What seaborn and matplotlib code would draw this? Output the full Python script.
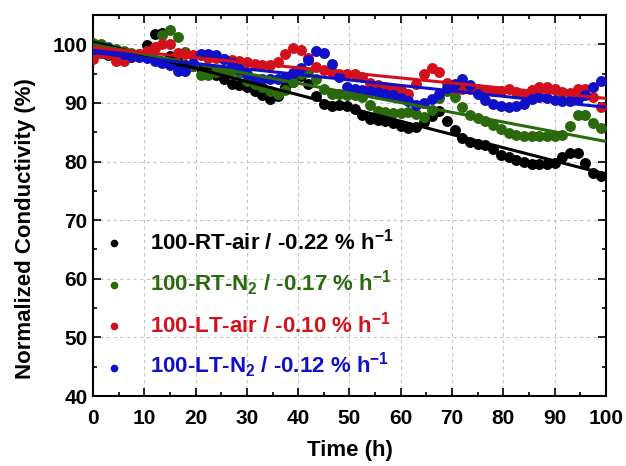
import matplotlib
matplotlib.use("Agg")  # no display
import matplotlib.pyplot as plt
import seaborn as sns
from matplotlib.ticker import MultipleLocator

# Time axis shared by all four samples (h)
time_h = [0, 1.5, 3, 4.5, 6, 7.5, 9, 10.5, 12, 13.5, 15, 16.5, 18, 19.5, 21, 22.5,
          24, 25.5, 27, 28.5, 30, 31.5, 33, 34.5, 36, 37.5, 39, 40.5, 42, 43.5, 45,
          46.5, 48, 49.5, 51, 52.5, 54, 55.5, 57, 58.5, 60, 61.5, 63, 64.5, 66, 67.5,
          69, 70.5, 72, 73.5, 75, 76.5, 78, 79.5, 81, 82.5, 84, 85.5, 87, 88.5, 90,
          91.5, 93, 94.5, 96, 97.5, 99]

# Normalized conductivity (%)
rt_air = [98.4, 98.6, 98.2, 98.0, 98.0, 97.9, 98.0, 99.8, 101.8, 102.0, 98.0, 97.0,
          96.5, 96.3, 96.0, 95.5, 94.8, 94.1, 93.3, 93.0, 92.7, 92.1, 91.3, 90.7,
          91.2, 92.7, 93.5, 94.6, 93.2, 91.2, 89.8, 89.4, 89.6, 89.5, 89.0, 88.0,
          87.3, 87.1, 87.0, 86.6, 86.0, 85.8, 85.9, 86.8, 87.8, 88.6, 86.9, 85.3,
          84.1, 83.3, 83.0, 82.8, 82.2, 81.2, 80.7, 80.3, 79.9, 79.5, 79.5, 79.5,
          79.8, 80.7, 81.5, 81.4, 79.7, 78.0, 77.5]
rt_n2 = [100.2, 100.1, 99.5, 99.2, 98.8, 98.5, 98.3, 98.0, 99.4, 101.6, 102.5, 101.2,
         98.7, 96.3, 94.8, 94.7, 95.2, 95.5, 95.5, 95.1, 93.8, 93.2, 92.7, 92.0,
         91.6, 92.2, 93.5, 95.0, 95.3, 94.0, 92.4, 91.6, 91.5, 91.4, 91.3, 91.0,
         89.7, 88.7, 88.5, 88.2, 88.2, 88.5, 88.1, 87.6, 88.8, 90.9, 92.1, 91.0,
         89.3, 88.0, 87.4, 87.0, 86.3, 85.6, 84.8, 84.5, 84.4, 84.3, 84.3, 84.3,
         84.4, 84.6, 86.0, 88.0, 88.0, 86.6, 85.7]
lt_air = [97.5, 98.6, 98.3, 97.2, 97.1, 98.0, 98.3, 98.9, 99.5, 100.1, 100.0, 98.6,
          98.3, 98.2, 98.2, 97.7, 97.6, 97.5, 97.4, 97.2, 96.9, 96.6, 96.4, 96.4,
          96.9, 98.3, 99.3, 99.1, 97.7, 96.1, 95.6, 95.3, 95.0, 94.9, 94.9, 94.5,
          93.4, 93.0, 92.7, 92.4, 92.2, 91.6, 93.2, 95.0, 96.0, 95.2, 93.4, 92.6,
          92.4, 92.3, 92.4, 92.2, 92.0, 92.1, 92.4, 91.9, 91.6, 92.2, 92.7, 92.7,
          92.4, 91.8, 91.7, 92.3, 92.4, 91.0, 89.3]
lt_n2 = [99.2, 99.5, 99.4, 98.8, 98.4, 98.0, 97.8, 97.6, 97.2, 96.8, 96.4, 95.4,
         95.4, 96.8, 98.4, 98.4, 98.1, 97.5, 96.8, 95.8, 95.0, 94.1, 94.0, 94.0,
         94.1, 94.5, 95.1, 96.0, 97.4, 98.8, 98.6, 96.6, 94.4, 92.8, 92.4, 92.2,
         92.0, 91.8, 91.6, 91.3, 90.8, 90.3, 89.6, 90.0, 90.7, 91.5, 92.5, 93.3,
         94.0, 93.0, 91.6, 90.5, 89.8, 89.4, 89.3, 89.4, 89.8, 90.7, 91.0, 90.8,
         90.5, 90.4, 90.3, 90.6, 91.3, 92.7, 93.7]

series = [rt_air, rt_n2, lt_air, lt_n2]
labels = ["100-RT-air / -0.22 % h$^{-1}$",
          "100-RT-N$_2$ / -0.17 % h$^{-1}$",
          "100-LT-air / -0.10 % h$^{-1}$",
          "100-LT-N$_2$ / -0.12 % h$^{-1}$"]
colors = ["#000000", "#2b6a0c", "#d4101c", "#1010c8"]

sns.set_theme(style="ticks")
plt.rcParams["font.family"] = ["Liberation Sans", "DejaVu Sans"]
plt.rcParams["font.weight"] = "bold"
plt.rcParams["mathtext.fontset"] = "custom"
plt.rcParams["mathtext.rm"] = "Liberation Sans:bold"
plt.rcParams["mathtext.default"] = "rm"
# seaborn greys out text, the original is plain black
plt.rcParams["text.color"] = "black"
plt.rcParams["axes.labelcolor"] = "black"

fig = plt.figure(figsize=(6.26, 4.66), dpi=100)
ax = fig.add_axes([0.1486, 0.1502, 0.8194, 0.8176])
ax.set_xlim(0, 100)
ax.set_ylim(40, 105)

# points
for vals, lab, col in zip(series, labels, colors):
    sns.scatterplot(x=time_h, y=vals, color=col, s=62, linewidth=0,
                    label=lab, ax=ax, zorder=3)

# linear fits drawn over the points
for vals, col in zip(series, colors):
    sns.regplot(x=time_h, y=vals, scatter=False, ci=None, truncate=False,
                color=col, line_kws={"lw": 2.2, "zorder": 4}, ax=ax)

ax.set_xlim(0, 100)
ax.set_ylim(40, 105)
ax.xaxis.set_major_locator(MultipleLocator(10))
ax.xaxis.set_minor_locator(MultipleLocator(5))
ax.yaxis.set_minor_locator(MultipleLocator(5))
ax.set_yticks([40, 50, 60, 70, 80, 90, 100])

ax.grid(True, which="major", ls=(0, (3, 3)), color="#c4c4c4", lw=0.8)
ax.set_axisbelow(True)

ax.tick_params(which="both", direction="in", top=True, right=True, width=1.2,
               colors="black", labelsize=15)
ax.tick_params(which="major", length=6)
ax.tick_params(which="minor", length=3)
ax.tick_params(axis="x", pad=9)
ax.tick_params(axis="y", pad=4)
for s in ax.spines.values():
    s.set_linewidth(1.5)
    s.set_color("black")

ax.set_xlabel("Time (h)", fontsize=16, fontweight="bold", color="black")
ax.set_ylabel("Normalized Conductivity (%)", fontsize=16, fontweight="bold",
              color="black")
ax.xaxis.set_label_coords(0.5, -0.115)
ax.yaxis.set_label_coords(-0.112, 0.44)

ax.legend(loc="upper left", bbox_to_anchor=(0.02, 0.44), frameon=False,
          prop={"size": 16, "weight": "bold"}, markerscale=0.7,
          handlelength=1.0, handletextpad=1.1, labelspacing=0.62,
          borderpad=0, borderaxespad=0, labelcolor=colors)

fig.savefig("out.png", dpi=100)
plt.close(fig)
